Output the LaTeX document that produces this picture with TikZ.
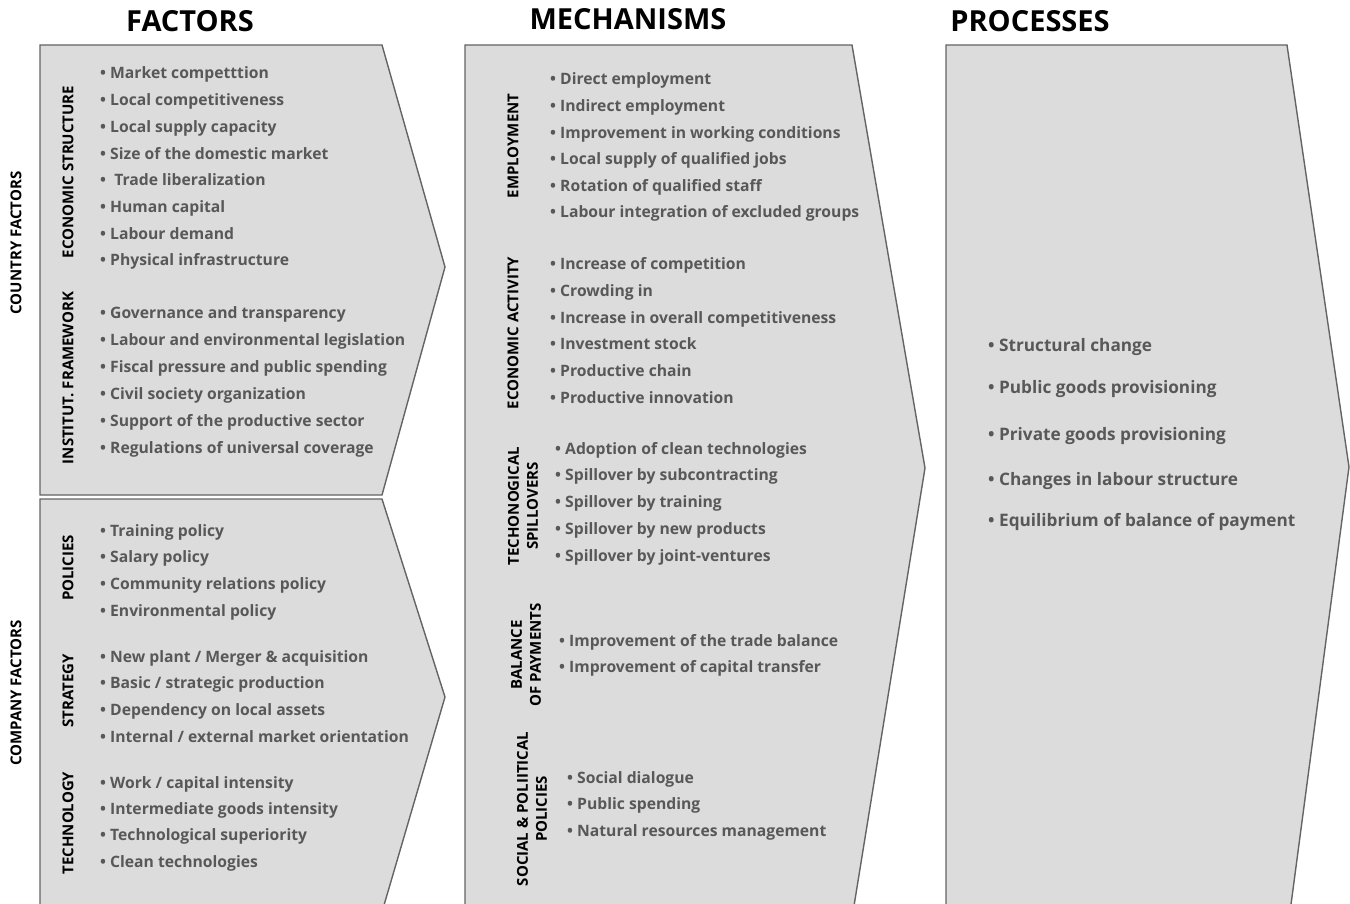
\documentclass[tikz,border=0pt]{standalone}
\usepackage{fontspec}
\setmainfont{Open Sans}

\definecolor{panelfill}{RGB}{220,220,220}
\definecolor{panelline}{RGB}{100,100,100}
\definecolor{itemgray}{RGB}{88,88,88}

\begin{document}
\begin{tikzpicture}[x=1pt,y=-1pt,
    panel/.style={draw=panelline,fill=panelfill,line width=1.4pt,line join=miter},
    title/.style={font=\fontsize{29}{32}\selectfont\bfseries,inner sep=0pt},
    side label/.style={rotate=90,font=\fontsize{15}{19}\selectfont\bfseries,
                       align=center,inner sep=0pt},
    item/.style={anchor=base west,yshift=-6pt,inner sep=0pt,text=itemgray,
                 font=\bfseries\fontsize{15.7}{20}\selectfont},
    wide item/.style={item,font=\bfseries\fontsize{17.2}{20}\selectfont}]
  \useasboundingbox (0,0) rectangle (1350,904);

  % panels
  \draw[panel] (40,45) -- (382,45) -- (445,267) -- (382,495) -- (40,495) -- cycle;
  \draw[panel] (40,499) -- (382,499) -- (445,697) -- (382,912) -- (40,912) -- cycle;
  \draw[panel] (465,45) -- (852,45) -- (925,468) -- (853,912) -- (465,912) -- cycle;
  \draw[panel] (946,45) -- (1287,45) -- (1349,467) -- (1290,912) -- (946,912) -- cycle;

  % column titles
  \node[title] (factors) at (190,21) {FACTORS};
  \node[title] (mechanisms) at (628,19) {MECHANISMS};
  \node[title] (processes) at (1030,21) {PROCESSES};

  % outer labels
  \node[side label] (country) at (16,243) {COUNTRY FACTORS};
  \node[side label] (company) at (16,693) {COMPANY FACTORS};

  % factor groups
  \node[side label] (econstruct) at (68,172) {ECONOMIC STRUCTURE};
  \node[side label] (institut) at (68,378) {INSTITUT. FRAMEWORK};
  \node[side label] (policies) at (68,568) {POLICIES};
  \node[side label] (strategy) at (68,691) {STRATEGY};
  \node[side label] (technology) at (68,823) {TECHNOLOGY};

  % mechanism groups
  \node[side label] (employment) at (513,146) {EMPLOYMENT};
  \node[side label] (activity) at (513,333) {ECONOMIC ACTIVITY};
  \node[side label] (spillovers) at (523,506) {TECHONOGICAL\\SPILLOVERS};
  \node[side label] (balance) at (526,655) {BALANCE\\OF PAYMENTS};
  \node[side label] (social) at (532,809) {SOCIAL \& POLIITICAL\\POLICIES};

  % factor items
  \foreach \txt [count=\i from 0] in {Market competttion, Local competitiveness,
      Local supply capacity, Size of the domestic market, \ Trade liberalization,
      Human capital, Labour demand, Physical infrastructure}
    \node[item] (es\i) at ({100},{73+26.7*\i}) {\textbullet\ \txt};
  \foreach \txt [count=\i from 0] in {Governance and transparency,
      Labour and environmental legislation, Fiscal pressure and public spending,
      Civil society organization, Support of the productive sector,
      Regulations of universal coverage}
    \node[item] (if\i) at ({100},{313+26.8*\i}) {\textbullet\ \txt};
  \foreach \txt [count=\i from 0] in {Training policy, Salary policy,
      Community relations policy, Environmental policy}
    \node[item] (po\i) at ({100},{530+26.7*\i}) {\textbullet\ \txt};
  \foreach \txt [count=\i from 0] in {New plant / Merger \& acquisition,
      Basic / strategic production, Dependency on local assets,
      Internal / external market orientation}
    \node[item] (st\i) at ({100},{656+26.7*\i}) {\textbullet\ \txt};
  \foreach \txt [count=\i from 0] in {Work / capital intensity,
      Intermediate goods intensity, Technological superiority, Clean technologies}
    \node[item] (te\i) at ({100},{782+26.4*\i}) {\textbullet\ \txt};

  % mechanism items
  \foreach \txt [count=\i from 0] in {Direct employment, Indirect employment,
      Improvement in working conditions, Local supply of qualified jobs,
      Rotation of qualified staff, Labour integration of excluded groups}
    \node[item] (em\i) at ({550},{79+26.6*\i}) {\textbullet\ \txt};
  \foreach \txt [count=\i from 0] in {Increase of competition, Crowding in,
      Increase in overall competitiveness, Investment stock, Productive chain,
      Productive innovation}
    \node[item] (ea\i) at ({550},{264+26.6*\i}) {\textbullet\ \txt};
  \foreach \txt [count=\i from 0] in {Adoption of clean technologies,
      Spillover by subcontracting, Spillover by training,
      Spillover by new products, Spillover by joint-ventures}
    \node[item] (ts\i) at ({555},{448+26.75*\i}) {\textbullet\ \txt};
  \foreach \txt [count=\i from 0] in {Improvement of the trade balance,
      Improvement of capital transfer}
    \node[item] (bp\i) at ({559},{640+26.5*\i}) {\textbullet\ \txt};
  \foreach \txt [count=\i from 0] in {Social dialogue, Public spending,
      Natural resources management}
    \node[item] (sp\i) at ({567},{777+26.5*\i}) {\textbullet\ \txt};

  % process items
  \foreach \y/\txt [count=\i from 0] in {345/Structural change,
      387/Public goods provisioning, 434/Private goods provisioning,
      479/Changes in labour structure, 520/Equilibrium of balance of payment}
    \node[wide item] (pr\i) at ({988},{\y}) {\textbullet\ \txt};
\end{tikzpicture}
\end{document}
